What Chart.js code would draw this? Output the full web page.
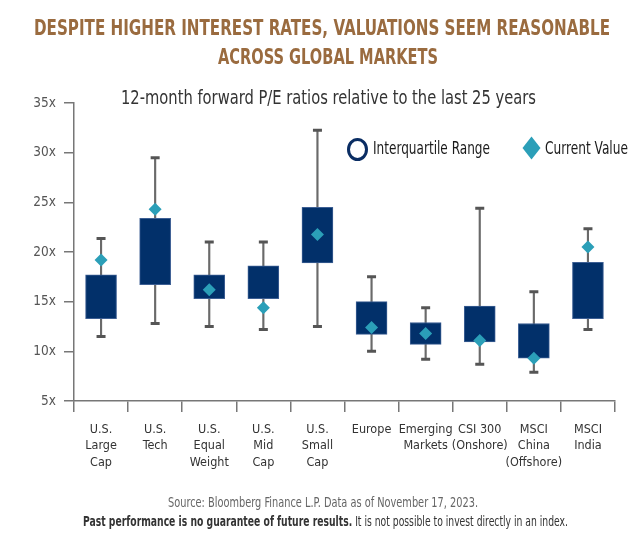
<!DOCTYPE html>
<html>
<head>
<meta charset="utf-8">
<script src="https://cdn.jsdelivr.net/npm/chart.js@4.4.1/dist/chart.umd.min.js"></script>
<style>
  html, body { margin: 0; padding: 0; background: #fff; }
  #wrap { position: relative; width: 644px; height: 536px; overflow: hidden;
          font-family: "Liberation Sans Narrow", "DejaVu Sans Condensed", "Roboto Condensed", "Open Sans", sans-serif; }
  canvas { position: absolute; left: 0; top: 0; }
  .t { position: absolute; white-space: nowrap; transform-origin: left center; }
  .title { color: #9a6b3f; font-weight: bold; font-size: 21px; line-height: 26px; }
  .subtitle { color: #333; font-size: 20px; line-height: 24px; }
  .leg { color: #1a1a1a; font-size: 17px; line-height: 20px; }
  .f1 { color: #666; font-size: 13.5px; line-height: 16px; }
  .f2 { color: #333; font-size: 13.5px; line-height: 16px; }
  .circle { position: absolute; left: 347px; top: 138px; width: 15px; height: 17px; border: 3px solid #0a2d63; border-radius: 50%; }
</style>
</head>
<body>
<div id="wrap">
  <canvas id="c" width="644" height="536"></canvas>
  <div class="t title" data-l="34" data-w="576" data-y="28">DESPITE HIGHER INTEREST RATES, VALUATIONS SEEM REASONABLE</div>
  <div class="t title" data-l="218" data-w="220" data-y="57">ACROSS GLOBAL MARKETS</div>
  <div class="t subtitle" data-l="121" data-w="415" data-y="97">12-month forward P/E ratios relative to the last 25 years</div>
  <div class="circle"></div>
  <div class="t leg" data-l="373" data-w="117" data-y="148">Interquartile Range</div>
  <svg style="position:absolute;left:522px;top:136px" width="19" height="24"><polygon points="9.5,0.5 18.5,12 9.5,23.5 0.5,12" fill="#2b9fb8"/></svg>
  <div class="t leg" data-l="545" data-w="83" data-y="148">Current Value</div>
  <div class="t f1" data-l="168" data-w="310" data-y="502">Source: Bloomberg Finance L.P. Data as of November 17, 2023.</div>
  <div class="t f2" data-l="83" data-w="485" data-y="521"><b>Past performance is no guarantee of future results.</b> It is not possible to invest directly in an index.</div>
</div>
<script>
const categories = [
  ["U.S.", "Large", "Cap"],
  ["U.S.", "Tech"],
  ["U.S.", "Equal", "Weight"],
  ["U.S.", "Mid", "Cap"],
  ["U.S.", "Small", "Cap"],
  ["Europe"],
  ["Emerging", "Markets"],
  ["CSI 300", "(Onshore)"],
  ["MSCI", "China", "(Offshore)"],
  ["MSCI", "India"]
];
const whiskerLow  = [11.5, 12.8, 12.5, 12.2, 12.5, 10.0, 9.2, 8.7, 7.9, 12.2];
const whiskerHigh = [21.35, 29.5, 21.0, 21.0, 32.25, 17.5, 14.4, 24.4, 16.0, 22.35];
const q1 = [13.3, 16.7, 15.3, 15.3, 18.9, 11.7, 10.7, 10.95, 9.3, 13.3];
const q3 = [17.7, 23.4, 17.7, 18.6, 24.5, 15.0, 12.9, 14.55, 12.8, 18.95];
const currentValue = [19.2, 24.3, 16.2, 14.4, 21.75, 12.4, 11.8, 11.1, 9.3, 20.5];
const yTicks = [5, 10, 15, 20, 25, 30, 35];

// fit text blocks to the reference widths
document.querySelectorAll('.t').forEach(el => {
  const w = el.getBoundingClientRect().width;
  const h = el.getBoundingClientRect().height;
  const target = +el.dataset.w;
  el.style.left = el.dataset.l + 'px';
  el.style.top = (+el.dataset.y - h / 2) + 'px';
  el.style.transform = 'scaleX(' + (target / w) + ')';
});

const FONT = '"Liberation Sans Narrow", "DejaVu Sans Condensed", "Roboto Condensed", "Open Sans", sans-serif';
const NAVY = '#02306a';
const TEAL = '#2b9fb8';
const GREY = '#555';

new Chart(document.getElementById('c'), {
  data: {
    labels: categories,
    datasets: [
      { type: 'line', label: 'Current Value', data: currentValue, showLine: false,
        pointStyle: 'rectRot', pointRadius: 6.5, backgroundColor: TEAL, borderColor: TEAL, borderWidth: 0, order: 0 },
      { type: 'bar', label: 'Interquartile Range', data: q1.map((v, i) => [v, q3[i]]),
        backgroundColor: NAVY, borderColor: '#3d5f94', borderWidth: 1, borderSkipped: false,
        barThickness: 31, grouped: false, order: 1 },
      { type: 'line', label: 'High', data: whiskerHigh, showLine: false, pointStyle: 'line',
        pointRadius: 4.5, borderColor: GREY, borderWidth: 3, order: 2 },
      { type: 'line', label: 'Low', data: whiskerLow, showLine: false, pointStyle: 'line',
        pointRadius: 4.5, borderColor: GREY, borderWidth: 3, order: 2 },
      { type: 'bar', label: 'Range', data: whiskerLow.map((v, i) => [v, whiskerHigh[i]]),
        backgroundColor: '#6a6a6a', barThickness: 1.5, grouped: false, order: 3 }
    ]
  },
  options: {
    responsive: false,
    animation: false,
    layout: { padding: { top: 103, right: 29, left: 0, bottom: 0 } },
    plugins: { legend: { display: false }, tooltip: { enabled: false } },
    scales: {
      x: {
        type: 'category', offset: true,
        grid: { offset: true, drawOnChartArea: false, drawTicks: true, tickLength: 11, color: '#777', lineWidth: 1.5 },
        border: { display: true, color: '#777', width: 1.5 },
        ticks: { autoSkip: false, maxRotation: 0, minRotation: 0, padding: 9, color: '#333',
                 font: { family: FONT, size: 12.5, lineHeight: 1.32 } },
        afterFit: (s) => { s.height = 135; }
      },
      y: {
        min: 5, max: 35,
        afterBuildTicks: (s) => { s.ticks = yTicks.map(v => ({ value: v })); },
        grid: { drawOnChartArea: false, drawTicks: true, tickLength: 10, color: '#777', lineWidth: 1.5 },
        border: { display: true, color: '#777', width: 1.5 },
        ticks: { padding: 8, color: '#555', font: { family: FONT, size: 13.5 }, callback: (v) => v + 'x' },
        afterFit: (s) => { s.width = 74; }
      }
    }
  }
});
</script>
</body>
</html>
